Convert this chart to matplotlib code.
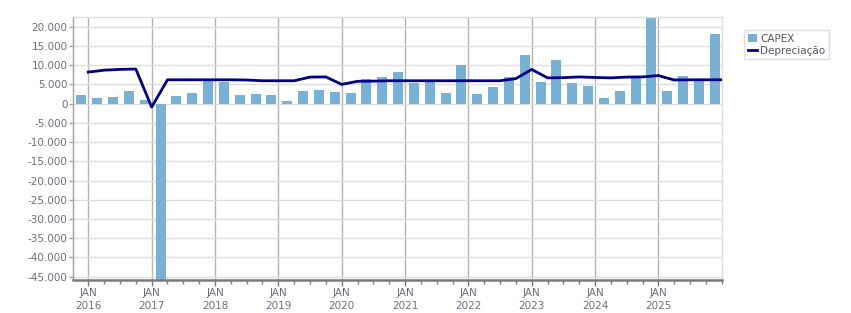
import matplotlib
matplotlib.use("Agg")
import matplotlib.pyplot as plt
import numpy as np
from matplotlib.ticker import FuncFormatter, FixedLocator

# ---- data (quarterly, 2016 Q1 .. 2026 Q1 reference points) ----
years = list(range(2016, 2026))
capex = [2200, 1400, 1650, 3200, 900, -48000, 1900, 2700, 6100, 5600,
         2200, 2400, 2200, 600, 3200, 3500, 2950, 2700, 6300, 6850,
         8150, 5300, 5800, 2700, 10000, 2400, 4250, 6850, 12600, 5550,
         11300, 5300, 4500, 1400, 3200, 6850, 24000, 3200, 7100, 6000,
         18000]
depreciacao = [8200, 8700, 8900, 9000, -900, 6200, 6200, 6200, 6200, 6200,
               6150, 5950, 5950, 5950, 6900, 6950, 5000, 5800, 5850, 5950,
               5950, 5950, 5950, 5950, 5950, 5950, 5950, 6500, 8900, 6700,
               6750, 6950, 6800, 6700, 6900, 6950, 7300, 6150, 6200, 6200,
               6200]
yticks = list(range(-45000, 20001, 5000))

# positions (decimal years)
line_x = 2016 + 0.25 * np.arange(len(depreciacao))
bar_x = line_x - 0.11

TXT = "#6e6e80"
fig = plt.figure(figsize=(8.51, 3.13), dpi=100)
ax = fig.add_axes([73.3/851, 1-280/313, (721.7-73.3)/851, (280-17.3)/313])

bars = ax.bar(bar_x, capex, width=0.158, color="#79b1d5", zorder=2, label="CAPEX")
line, = ax.plot(line_x, depreciacao, color="#000080", lw=2.0, zorder=3, label="Depreciação")

ax.set_xlim(2015.763, 2026.0)
ax.set_ylim(-45860, 22450)

ax.set_yticks(yticks)
ax.yaxis.set_major_formatter(FuncFormatter(lambda v, p: f"{int(v):,}".replace(",", ".")))
ax.set_xticks(years)
ax.set_xticklabels([f"JAN\n{y}" for y in years])
ax.xaxis.set_minor_locator(FixedLocator([y + q*0.25 for y in range(2015, 2027) for q in range(4)]))

ax.grid(axis="y", color="#dedede", lw=1.0, zorder=0)
ax.grid(axis="x", which="major", color="#b4b4b4", lw=1.0, zorder=0)
ax.set_axisbelow(True)

for s in ["top", "right"]:
    ax.spines[s].set_color("#dcdcdc")
    ax.spines[s].set_linewidth(1.0)
ax.spines["left"].set_color("#a0a0a0")
ax.spines["left"].set_linewidth(1.0)
ax.spines["bottom"].set_color("#7a7a7a")
ax.spines["bottom"].set_linewidth(1.8)

ax.tick_params(axis="y", length=3, width=1, color="#a0a0a0", labelsize=7.5, labelcolor=TXT, pad=1)
ax.tick_params(axis="x", which="major", length=4, width=1, color="#7a7a7a", labelsize=7.5, labelcolor=TXT, pad=2)
ax.tick_params(axis="x", which="minor", length=3, width=1, color="#7a7a7a")
for t in ax.get_xticklabels():
    t.set_linespacing(1.35)

leg = fig.legend([bars, line], ["CAPEX", "Depreciação"], loc="upper left",
                 bbox_to_anchor=(744/851, 1-30/313), fontsize=7.5,
                 frameon=True, fancybox=False, handlelength=0.9, handleheight=0.9,
                 handletextpad=0.3, borderpad=0.35, labelspacing=0.2, borderaxespad=0)
leg.get_frame().set_edgecolor("#d6d6d6")
leg.get_frame().set_linewidth(1.0)
for t in leg.get_texts():
    t.set_color("#555560")

fig.savefig("out.png", dpi=100)
